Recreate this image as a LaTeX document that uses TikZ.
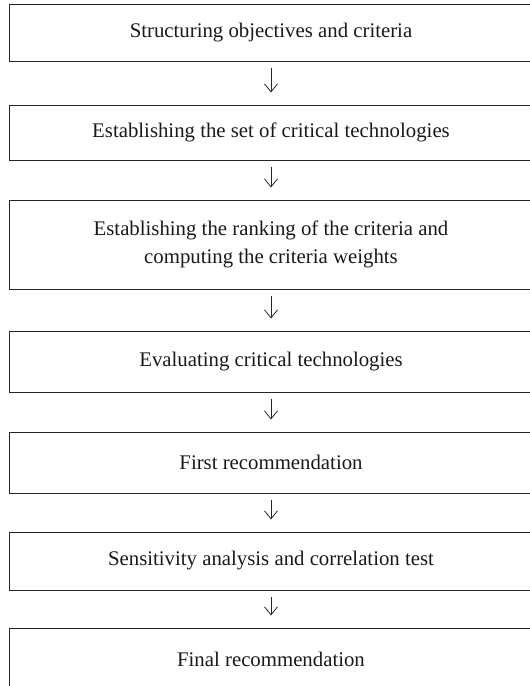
\documentclass[tikz,border=0pt]{standalone}
\usepackage{fontspec}
\setmainfont{Liberation Serif}
\usetikzlibrary{arrows.meta}
\begin{document}
\begin{tikzpicture}[x=1pt,y=-1pt,
  stepbox/.style={draw=black!85,line width=1pt,rectangle,minimum width=524pt,
    inner sep=0pt,align=center,font=\fontsize{20.8}{28.5}\selectfont,text=black!90},
  flow/.style={draw=black!85,line width=0.8pt,-{Straight Barb[length=8pt,width=13pt,line width=0.8pt]},shorten <=6pt,shorten >=12pt}]
\useasboundingbox (0,0) rectangle (530,686);
\node[stepbox,minimum height=57pt] (b1) at (271,32.5) {Structuring objectives and criteria};
\node[stepbox,minimum height=55pt] (b2) at (271,132.5) {Establishing the set of critical technologies};
\node[stepbox,minimum height=89pt] (b3) at (271,244.5) {Establishing the ranking of the criteria and\\computing the criteria weights};
\node[stepbox,minimum height=61pt] (b4) at (271,361.5) {Evaluating critical technologies};
\node[stepbox,minimum height=61pt] (b5) at (271,462.5) {First recommendation};
\node[stepbox,minimum height=58pt] (b6) at (271,561) {Sensitivity analysis and correlation test};
\node[stepbox,minimum height=62pt] (b7) at (271,659) {Final recommendation};
\draw[flow] (b1) -- (b2);
\draw[flow] (b2) -- (b3);
\draw[flow] (b3) -- (b4);
\draw[flow] (b4) -- (b5);
\draw[flow] (b5) -- (b6);
\draw[flow] (b6) -- (b7);
\end{tikzpicture}
\end{document}
